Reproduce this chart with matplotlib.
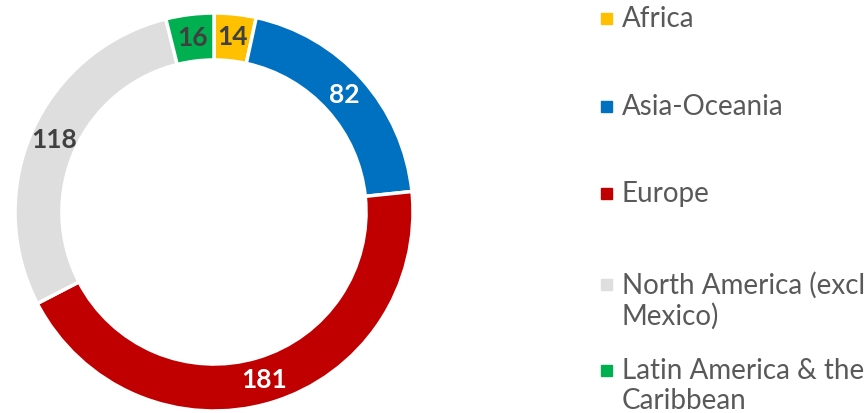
import matplotlib
matplotlib.use("Agg")
import matplotlib.pyplot as plt
import numpy as np

categories = ["Africa", "Asia-Oceania", "Europe", "North America (excl\nMexico)", "Latin America & the\nCaribbean"]
values = [14, 82, 181, 118, 16]
colors = ["#FFC000", "#0070C0", "#C00000", "#DEDEDE", "#00B050"]
label_colors = ["#404040", "white", "white", "#404040", "#404040"]

plt.rcParams['font.family'] = ['Lato', 'DejaVu Sans']

W, H = 864, 413
fig = plt.figure(figsize=(W / 100, H / 100), dpi=100)
cx, cy, R = 214, 212, 199
ax = fig.add_axes([(cx - R) / W, (H - cy - R) / H, 2 * R / W, 2 * R / H])
ring = 0.236
wedges, _ = ax.pie(values, colors=colors, startangle=90, counterclock=False,
                   radius=1.0, wedgeprops=dict(width=ring, edgecolor="white", linewidth=2.5))
ax.set_xlim(-1, 1)
ax.set_ylim(-1, 1)
ax.set_aspect("equal")
ax.axis("off")

rmid = 1 - ring / 2
for w, v, lc in zip(wedges, values, label_colors):
    ang = np.deg2rad((w.theta1 + w.theta2) / 2)
    ax.text(rmid * np.cos(ang), rmid * np.sin(ang), str(v), ha="center", va="center",
            fontsize=19, fontweight="bold", color=lc)

# legend
cap_tops = [7, 95, 182, 273, 359]
for lab, col, y in zip(categories, colors, cap_tops):
    fig.patches.append(plt.Rectangle(((606 - 5.5) / W, (H - (y + 11.5) - 5.5) / H), 11 / W, 11 / H,
                                     transform=fig.transFigure, color=col, figure=fig))
    fig.text(622 / W, (H - y + 1) / H, lab, ha="left", va="top", fontsize=20,
             color="#595959", linespacing=1.2)

fig.savefig("out.png", dpi=100)
